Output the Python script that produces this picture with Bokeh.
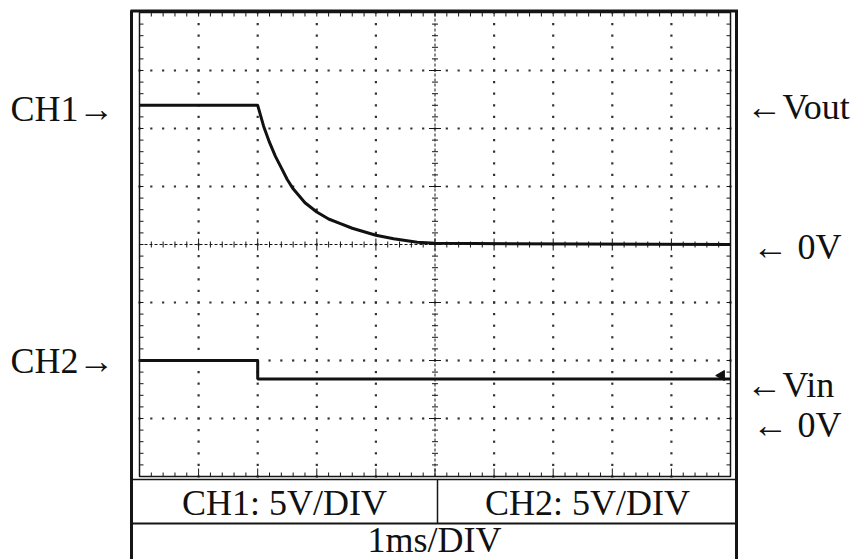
import numpy as np
from bokeh.plotting import figure
from bokeh.models import Range1d
from bokeh.core.properties import value
from bokeh.embed import file_html
from bokeh.resources import INLINE

# ---------------- data ----------------
time_ms_ch1 = [0.0, 2.0, 2.1, 2.2, 2.3, 2.4, 2.5, 2.6, 2.8, 3.0, 3.2, 3.4,
               3.6, 3.8, 4.0, 4.3, 4.7, 5.0, 10.0]
vout_volts = [12.0, 12.0, 10.2, 8.8, 7.6, 6.6, 5.6, 4.8, 3.6, 2.8, 2.2, 1.8,
              1.4, 1.1, 0.8, 0.5, 0.2, 0.1, 0.0]
time_ms_ch2 = [0.0, 2.0, 2.0, 10.0]
vin_volts = [5.0, 5.0, 3.4, 3.4]

ch1_volts_per_div = 5.0
ch2_volts_per_div = 5.0
ch1_zero_div = 0.0
ch2_zero_div = -3.0
ms_per_div = 1.0
n_xdiv = 10
n_ydiv = 8

left_labels = ["CH1→", "CH2→"]
right_labels = ["←Vout", "← 0V", "←Vin", "← 0V"]
scale_labels = ["CH1: 5V/DIV", "CH2: 5V/DIV"]
time_label = "1ms/DIV"

# ---------------- geometry (image pixels) ----------------
W, H = 864, 559
OFF = 0
GX0, GX1 = 139.0, 730.0
GY0, GY1 = 12.0, 476.0
sx = (GX1 - GX0) / n_xdiv
sy = (GY1 - GY0) / n_ydiv
GYC = (GY0 + GY1) / 2

x_start = -(GX0 - OFF) / sx
x_end = n_xdiv + (OFF + W - GX1) / sx
y_end = n_ydiv / 2 + (GY0 - OFF) / sy
y_start = -n_ydiv / 2 - (OFF + H - GY1) / sy


def X(px):
    return (px - GX0) / sx


def Y(py):
    return (GYC - py) / sy


p = figure(width=W, height=H,
           x_range=Range1d(x_start * ms_per_div, x_end * ms_per_div),
           y_range=Range1d(y_start, y_end),
           output_backend="svg", toolbar_location=None,
           x_axis_type=None, y_axis_type=None, min_border=0)
p.outline_line_color = None
p.background_fill_color = "white"
p.border_fill_color = "white"
p.extra_y_ranges = {
    "ch1": Range1d((y_start - ch1_zero_div) * ch1_volts_per_div,
                   (y_end - ch1_zero_div) * ch1_volts_per_div),
    "ch2": Range1d((y_start - ch2_zero_div) * ch2_volts_per_div,
                   (y_end - ch2_zero_div) * ch2_volts_per_div),
}

INK = "#151515"
hx = n_xdiv / 2
hy = n_ydiv / 2

# grid dots along major lines
xs_minor = np.arange(0, n_xdiv + 1e-9, 0.2)
ys_minor = np.arange(-hy, hy + 1e-9, 0.2)
dx, dy = [], []
for yy in range(-int(hy) + 1, int(hy)):
    if yy == 0:
        continue
    dx += list(xs_minor)
    dy += [yy] * len(xs_minor)
for xx in range(1, n_xdiv):
    if xx == hx:
        continue
    dx += [xx] * len(ys_minor)
    dy += list(ys_minor)
p.scatter(dx, dy, marker="square", size=2.2, color="#333333", line_color=None)

# border ticks
t = 4.0
x0s, y0s, x1s, y1s = [], [], [], []
for yy in ys_minor:
    x0s += [0, n_xdiv]; x1s += [t / sx, n_xdiv - t / sx]; y0s += [yy, yy]; y1s += [yy, yy]
for xx in xs_minor:
    tt = 8.0 if abs(xx - round(xx)) < 1e-6 else t
    x0s += [xx, xx]; x1s += [xx, xx]; y0s += [hy, -hy]; y1s += [hy - t / sy, -hy + tt / sy]
p.segment(x0s, y0s, x1s, y1s, line_color=INK, line_width=1)

# centre axes with ticks
p.line([0, n_xdiv], [0, 0], line_color=INK, line_width=1, line_dash="3 2")
p.line([hx, hx], [-hy, hy], line_color=INK, line_width=1, line_dash="3 2")
cx0, cy0, cx1, cy1 = [], [], [], []
for xx in xs_minor:
    tt = 6.0 if abs(xx - round(xx)) < 1e-6 else 3.0
    cx0.append(xx); cx1.append(xx); cy0.append(-tt / sy); cy1.append(tt / sy)
for yy in ys_minor:
    tt = 6.0 if abs(yy - round(yy)) < 1e-6 else 3.0
    cx0.append(hx - tt / sx); cx1.append(hx + tt / sx); cy0.append(yy); cy1.append(yy)
p.segment(cx0, cy0, cx1, cy1, line_color=INK, line_width=1)

# inner screen border
p.quad(left=[0], right=[n_xdiv], bottom=[-hy], top=[hy], fill_color=None,
       line_color=INK, line_width=1.5)

# outer frame and label boxes
p.line([X(131), X(131)], [Y(10), Y(570)], line_color=INK, line_width=3)
p.line([X(736), X(736)], [Y(10), Y(570)], line_color=INK, line_width=3)
p.line([X(130), X(737.5)], [Y(10.5), Y(10.5)], line_color=INK, line_width=3)
p.line([X(131), X(736)], [Y(479), Y(479)], line_color=INK, line_width=1.5)
p.line([X(131), X(736)], [Y(523), Y(523)], line_color=INK, line_width=2)
p.line([X(437), X(437)], [Y(479), Y(523)], line_color=INK, line_width=1.5)

# traces
p.line(time_ms_ch1, vout_volts, y_range_name="ch1", line_color="#111111", line_width=3)
p.line(time_ms_ch2, vin_volts, y_range_name="ch2", line_color="#111111", line_width=3)

# trigger marker
p.scatter([X(721)], [Y(375)], marker="triangle", angle=np.pi / 2, size=10,
          color="#111111")

font = value("Liberation Serif")
fs = "36px"
p.text(x=[X(10), X(10)], y=[Y(108), Y(360)], text=left_labels,
       text_font=font, text_font_size=fs, text_align="left",
       text_baseline="middle", text_color="#111111")
p.text(x=[X(746), X(752), X(746), X(752)], y=[Y(106), Y(246), Y(384), Y(424)],
       text=right_labels,
       text_font=font, text_font_size=fs, text_align="left",
       text_baseline="middle", text_color="#111111")
p.text(x=[X(284), X(587)], y=[Y(502), Y(502)], text=scale_labels,
       text_font=font, text_font_size=fs, text_align="center",
       text_baseline="middle", text_color="#111111")
p.text(x=[X(434)], y=[Y(539)], text=[time_label],
       text_font=font, text_font_size=fs, text_align="center",
       text_baseline="middle", text_color="#111111")

open("out.html", "w").write(file_html(p, INLINE))
